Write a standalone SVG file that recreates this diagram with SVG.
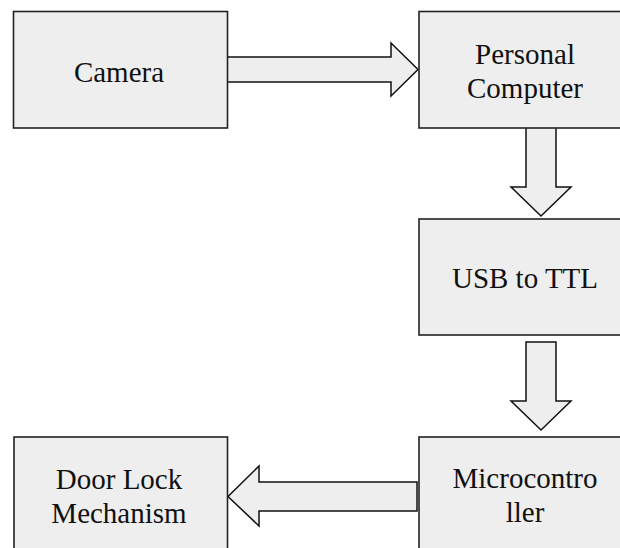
<svg xmlns="http://www.w3.org/2000/svg" width="620" height="548" viewBox="0 0 620 548">
<style>
.box{fill:#eeeeee;stroke:#222222;stroke-width:1.6}
.arr{fill:#eeeeee;stroke:#111111;stroke-width:1.5;stroke-linejoin:miter}
.t{font-family:"Liberation Serif","Times New Roman",serif;font-size:29px;fill:#111111;text-anchor:middle}
</style>
<rect width="620" height="548" fill="#ffffff"/>
<g id="connectors">
<polygon class="arr" points="227,57 391,57 391,43 418,69.5 391,96 391,82 227,82"/>
<polygon class="arr" points="526,127 526,187 511,187 541,216 571,187 556,187 556,127"/>
<polygon class="arr" points="526,342 526,401 511,401 541,430 571,401 556,401 556,342"/>
<polygon class="arr" points="417,482 259,482 259,466 228,496.5 259,526 259,511 417,511"/>
</g>
<g id="camera">
<rect class="box" x="13.5" y="11.5" width="214" height="116.5"/>
<text class="t" x="119" y="82">Camera</text>
</g>
<g id="personal-computer">
<rect class="box" x="419" y="11.5" width="215" height="116.5"/>
<text class="t" x="525" y="64">Personal</text>
<text class="t" x="525" y="98">Computer</text>
</g>
<g id="usb-to-ttl">
<rect class="box" x="419" y="219" width="215" height="116"/>
<text class="t" x="525" y="288">USB to TTL</text>
</g>
<g id="door-lock">
<rect class="box" x="14" y="437" width="213.5" height="125"/>
<text class="t" x="119" y="489">Door Lock</text>
<text class="t" x="119" y="523">Mechanism</text>
</g>
<g id="microcontroller">
<rect class="box" x="419" y="437" width="215" height="125"/>
<text class="t" x="525" y="488">Microcontro</text>
<text class="t" x="525" y="522">ller</text>
</g>
</svg>
